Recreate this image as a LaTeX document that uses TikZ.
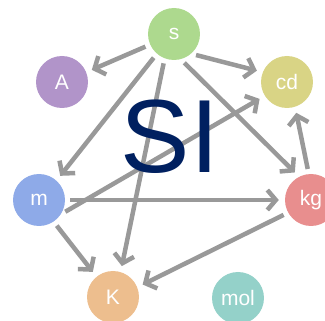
\documentclass[tikz,border=0pt]{standalone}
\usepackage{fontspec}
\setmainfont{Liberation Sans}
\usetikzlibrary{arrows.meta, positioning}

\definecolor{edgegray}{RGB}{153,153,153}
\definecolor{sinavy}{RGB}{0,32,96}
\definecolor{cS}{RGB}{173,217,142}
\definecolor{cA}{RGB}{177,148,201}
\definecolor{cCd}{RGB}{217,212,133}
\definecolor{cM}{RGB}{142,170,232}
\definecolor{cKg}{RGB}{232,142,142}
\definecolor{cK}{RGB}{237,190,142}
\definecolor{cMol}{RGB}{148,209,201}

\begin{document}
\begin{tikzpicture}[x=1pt, y=-1pt,
        unit/.style={circle, minimum size=52pt, inner sep=0pt, text=white,
            font=\fontsize{21}{21}\selectfont},
        link/.style={edgegray, line width=4.5pt, shorten <=5pt, shorten >=6pt,
            -{Straight Barb[length=8.5pt, width=20pt]}}]
    \useasboundingbox (0,0) rectangle (325,321);

    \node[unit, fill=cS]   (s)   at (174,34)  {s};
    \node[unit, fill=cA]   (A)   at (62,82)   {A};
    \node[unit, fill=cCd]  (cd)  at (287,82)  {cd};
    \node[unit, fill=cM]   (m)   at (39,200)  {m};
    \node[unit, fill=cKg]  (kg)  at (311,200) {kg};
    \node[unit, fill=cK]   (K)   at (113,297) {K};
    \node[unit, fill=cMol] (mol) at (238,298) {mol};

    % edges
    \draw[link] (s.204) -- (A.22);
    \draw[link] (s.-49) -- (cd.158);
    \draw[link] (s.229) -- (m.48);
    \draw[link] (s.249) -- (K.73);
    \draw[link] (s.-75) -- (kg.117);
    \draw[link] (m.-33) -- (cd.212);
    \draw[link] (m.0) -- (kg.180);
    \draw[link] (m.-56) -- (K.129);
    \draw[link] (kg.209) -- (K.22);
    \draw[link] (kg.95) -- (cd.-72);

    \node[text=sinavy, font=\fontsize{104}{104}\selectfont] (si) at (170,137) {SI};
\end{tikzpicture}
\end{document}
